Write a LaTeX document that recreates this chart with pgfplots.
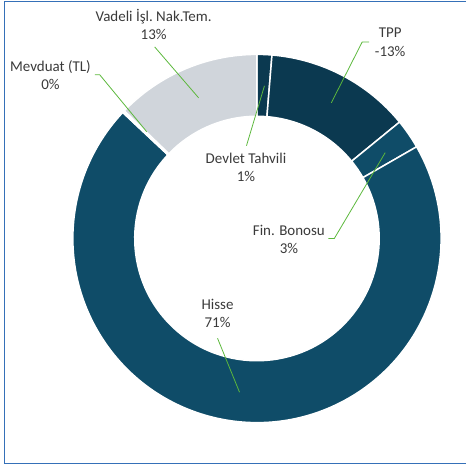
\documentclass[border=0pt]{standalone}
\usepackage{pgfplots}
\pgfplotsset{compat=1.18}
\usepackage{pgfplotstable}
\usepackage{fontspec}
\setmainfont{Carlito}

\definecolor{dark}{HTML}{0B3950}
\definecolor{mid}{HTML}{0F4C68}
\definecolor{light}{HTML}{D0D5DB}
\definecolor{leader}{HTML}{5CB83C}
\definecolor{frame}{HTML}{3570B8}
\definecolor{lbl}{HTML}{3A3A3A}

% shares in percent, clockwise from 12 o'clock
\pgfplotstableread{
share fill
1.3  dark
12.8 dark
2.6  mid
70.3 mid
0.2  white
12.8 light
}\donut

\tikzset{lab/.style={align=center, text=lbl, font=\fontsize{15}{18.5}\selectfont}}

\begin{document}
\begin{tikzpicture}
\begin{axis}[
  x=1pt, y=1pt, y dir=reverse,
  xmin=0, xmax=467, ymin=0, ymax=468,
  hide axis, clip=false,
]
\path (axis cs:0,0) (axis cs:467,468);

% donut
\pgfplotstablegetrowsof{\donut}
\pgfmathtruncatemacro{\last}{\pgfplotsretval-1}
\gdef\cum{0}
\foreach \i in {0,...,\last} {
  \pgfplotstablegetelem{\i}{share}\of{\donut}\let\s\pgfplotsretval
  \pgfplotstablegetelem{\i}{fill}\of{\donut}\let\c\pgfplotsretval
  \pgfmathsetmacro{\a}{90-3.6*\cum}
  \pgfmathsetmacro{\b}{90-3.6*(\cum+\s)}
  \pgfmathsetmacro{\n}{\cum+\s}
  \xdef\cum{\n}
  \edef\doslice{\noexpand\fill[\c, draw=white, line width=1.5pt]
    ([shift={(\a:184.5pt)}]axis cs:257.5,239)
    arc[start angle=\a, end angle=\b, radius=184.5pt]
    -- ([shift={(\b:122.5pt)}]axis cs:257.5,239)
    arc[start angle=\b, end angle=\a, radius=122.5pt] -- cycle;}
  \doslice
}

% leader lines
\draw[leader, line width=0.8pt] (axis cs:155,47) -- (axis cs:199,98);
\draw[leader, line width=0.8pt] (axis cs:95,75) -- (axis cs:100,75) -- (axis cs:147,132);
\draw[leader, line width=0.8pt] (axis cs:370,42) -- (axis cs:363,42) -- (axis cs:332,103);
\draw[leader, line width=0.8pt] (axis cs:247,146) -- (axis cs:265,86);
\draw[leader, line width=0.8pt] (axis cs:329,239) -- (axis cs:335,239) -- (axis cs:386,153);
\draw[leader, line width=0.8pt] (axis cs:218,339) -- (axis cs:240,393);

% labels
\node[lab] at (axis cs:154,24.5) {Vadeli İşl.\ Nak.Tem.\\13\%};
\node[lab] at (axis cs:50.5,75.5) {Mevduat (TL)\\0\%};
\node[lab] at (axis cs:391,42.5) {TPP\\-13\%};
\node[lab] at (axis cs:246.5,167.5) {Devlet Tahvili\\1\%};
\node[lab] at (axis cs:289.5,240) {Fin. Bonosu\\3\%};
\node[lab] at (axis cs:218,314) {Hisse\\71\%};

% frame
\draw[frame, line width=1.2pt] (axis cs:467,1.5) -- (axis cs:4.5,1.5)
  -- (axis cs:4.5,464.5) -- (axis cs:467,464.5);
\end{axis}
\end{tikzpicture}
\end{document}
